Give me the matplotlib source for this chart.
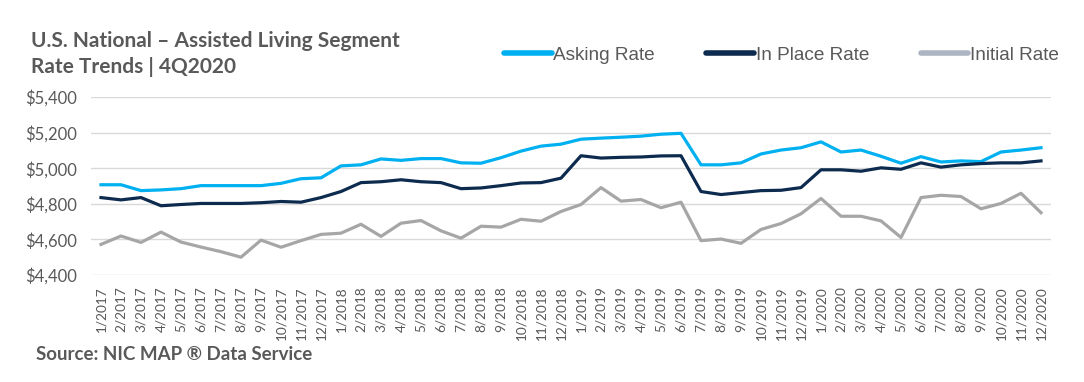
import matplotlib
matplotlib.use("Agg")
import matplotlib.pyplot as plt
from matplotlib.lines import Line2D
from matplotlib.ticker import FuncFormatter

# month labels 1/2017 .. 12/2020
months = [f"{m}/{y}" for y in (2017, 2018, 2019, 2020) for m in range(1, 13)]

asking_rate = [4907, 4907, 4874, 4878, 4885, 4902, 4902, 4902, 4902, 4915, 4941, 4946,
               5013, 5019, 5052, 5044, 5054, 5054, 5030, 5028, 5059, 5096, 5124, 5135,
               5163, 5169, 5174, 5180, 5191, 5196, 5019, 5019, 5030, 5080, 5102, 5115,
               5148, 5091, 5102, 5067, 5028, 5065, 5035, 5041, 5037, 5091, 5102, 5115]
in_place_rate = [4835, 4822, 4835, 4789, 4796, 4802, 4802, 4802, 4806, 4813, 4809, 4835,
                 4869, 4919, 4924, 4935, 4924, 4919, 4885, 4889, 4902, 4917, 4919, 4944,
                 5070, 5057, 5061, 5063, 5069, 5070, 4869, 4852, 4863, 4874, 4876, 4891,
                 4991, 4991, 4983, 5002, 4994, 5030, 5006, 5019, 5026, 5030, 5030, 5041]
initial_rate = [4572, 4619, 4583, 4641, 4585, 4557, 4531, 4500, 4596, 4556, 4593, 4628,
                4635, 4685, 4617, 4691, 4706, 4648, 4607, 4674, 4669, 4713, 4702, 4757,
                4796, 4891, 4815, 4824, 4778, 4809, 4593, 4602, 4578, 4656, 4689, 4744,
                4830, 4730, 4730, 4704, 4611, 4835, 4848, 4841, 4772, 4802, 4859, 4750]

series_names = ["Asking Rate", "In Place Rate", "Initial Rate"]
line_colors = ["#00B0F0", "#0D2B4E", "#A6A6A6"]
legend_colors = ["#00B0F0", "#0D2B4E", "#AEB5C2"]
gray_text = "#595959"

W, H = 1084, 382
fig = plt.figure(figsize=(W / 100, H / 100), dpi=100)
ax = fig.add_axes([91 / W, 1 - 275 / H, 960 / W, 178 / H])

x = range(len(months))
for vals, c in zip([asking_rate, in_place_rate, initial_rate], line_colors):
    ax.plot(x, vals, color=c, linewidth=2.3, solid_joinstyle="round")

ax.set_xlim(-0.5, len(months) - 0.5)
ax.set_ylim(4400, 5400)
ax.set_yticks(range(4400, 5401, 200))
ax.yaxis.set_major_formatter(FuncFormatter(lambda v, p: f"${v:,.0f}"))
ax.set_xticks(list(x))
ax.set_xticklabels(months, rotation=90, fontsize=9.8, family="Lato", color=gray_text)
for lab in ax.get_yticklabels():
    lab.set_family("Lato")
    lab.set_fontsize(12)
    lab.set_color(gray_text)
ax.tick_params(axis="both", length=0)
ax.tick_params(axis="y", pad=10)
ax.tick_params(axis="x", pad=8)
ax.grid(axis="y", color="#D9D9D9", linewidth=1)
ax.set_axisbelow(True)
for s in ax.spines.values():
    s.set_visible(False)

# title and source
fig.text(31 / W, 1 - 47 / H, "U.S. National – Assisted Living Segment", fontsize=15,
         fontweight="bold", family="Lato", color=gray_text, va="baseline")
fig.text(31 / W, 1 - 73 / H, "Rate Trends | 4Q2020", fontsize=15,
         fontweight="bold", family="Lato", color=gray_text, va="baseline")
fig.text(36 / W, 1 - 360 / H, "Source: NIC MAP ® Data Service", fontsize=13.5,
         fontweight="bold", family="Lato", color=gray_text, va="baseline")

handles = [Line2D([0], [0], color=c, linewidth=4, solid_capstyle="round") for c in legend_colors]
leg = fig.legend(handles, series_names, loc="center left", ncol=3,
                 bbox_to_anchor=(504 / W, 1 - 55 / H), bbox_transform=fig.transFigure,
                 frameon=False, borderpad=0, borderaxespad=0,
                 handlelength=2.5, handletextpad=0.1, columnspacing=2.7,
                 prop={"family": "Liberation Sans", "size": 13.7})
for t in leg.get_texts():
    t.set_color(gray_text)

fig.savefig("out.png", dpi=100)
